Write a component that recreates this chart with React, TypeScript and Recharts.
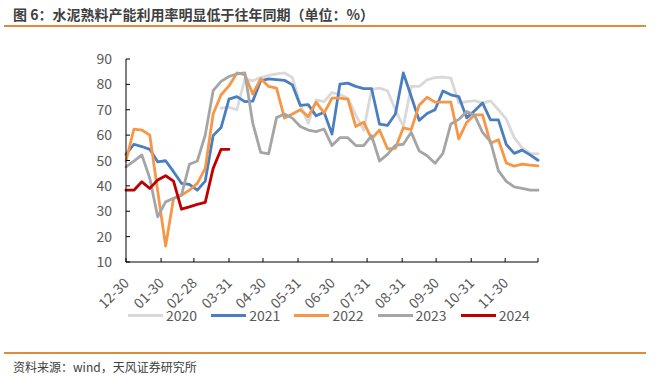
import React from "react";
import { LineChart, Line, XAxis, YAxis } from "recharts";

const TITLE = "图 6：水泥熟料产能利用率明显低于往年同期（单位：%）";
const SOURCE = "资料来源：wind，天风证券研究所";

// weekly observations, index i -> day 7*i counted from 12-30
const s2020: (number | null)[] = [
  null, null, null, null, null, null, null, null, null, null, null, null,
  70.6, 71, 70, 82.2, 81.4, 82.7, 83.5, 84.1, 84.5, 82.7,
  71.9, 64.7, 73.9, 73.2, 76.8, 76, 74.5, 68, 62, 78,
  78.5, 77.5, 70, 63.4, 79.2, 79.2, 81.8, 82.7, 82.9, 82.5,
  72.6, 73.2, 73.6, 72.6, 73.5, 70, 66.3, 59, 55, 52.8, 52.6,
];
const s2021: (number | null)[] = [
  52.4, 56.4, 55.5, 54.4, 49.5, 49.9, 45.6, 41, 40.6, 38.3,
  41.9, 59.8, 63, 74.2, 75.2, 73.2, 73.4, 81.4, 82.2, 81.9,
  81.6, 79.8, 71.7, 72, 67.6, 69, 60.4, 80.1, 80.5, 79.2,
  78.3, 78.3, 64.3, 63.8, 68.3, 84.5, 75.2, 65.8, 68.5, 70,
  77.4, 75.9, 75.2, 66.8, 69.6, 72.7, 66, 66, 56.3, 52.8,
  54.1, 52.2, 50.1,
];
const s2022: (number | null)[] = [
  49.8, 62.4, 62, 60, 38, 16.3, 35, 36.3, 38.3, 41,
  46.9, 68.3, 75.9, 79.4, 84.5, 83.8, 76.2, 82.2, 79.2, 78.5,
  66.7, 68.3, 70, 67.3, 73, 68.7, 74.6, 74.6, 74.2, 63.4,
  65.1, 58.5, 62, 54.6, 54.8, 62.9, 62.2, 71.8, 74.9, 73,
  73, 73, 58.5, 65, 68, 68, 56.8, 58.2, 49, 47.8,
  48.6, 48.2, 47.9,
];
const s2023: (number | null)[] = [
  47.5, 49.8, 52.2, 43, 27.8, 33.7, 35.1, 36.4, 48.5, 49.8,
  60, 77.5, 81.2, 83.1, 84.1, 84.5, 64.7, 53.2, 52.6, 66.9,
  68.3, 66.7, 63.4, 62, 61.4, 62.4, 55.9, 59, 59, 55.9,
  55.9, 59.8, 49.8, 52.4, 56, 56.4, 61.1, 53.8, 51.9, 48.9,
  52.8, 64.4, 66.2, 69.3, 67.8, 61.1, 57.5, 46, 41.8, 39.6,
  39, 38.3, 38.3,
];
const s2024: (number | null)[] = [
  38.3, 38.3, 41.6, 39, 42.3, 44, 41.9, 30.8, 31.7, 32.7,
  33.5, 46.9, 54.4, 54.4,
];

const tickDays = [0, 31, 60, 91, 121, 152, 182, 213, 244, 274, 305, 335, 364];
const tickLabels = ["12-30", "01-30", "02-28", "03-31", "04-30", "05-31", "06-30", "07-31", "08-31", "09-30", "10-31", "11-30", ""];
const yTicks = [10, 20, 30, 40, 50, 60, 70, 80, 90];

const seriesDefs = [
  { key: "y2020", name: "2020", color: "#D9D9D9", values: s2020 },
  { key: "y2021", name: "2021", color: "#4A7EBF", values: s2021 },
  { key: "y2022", name: "2022", color: "#F79646", values: s2022 },
  { key: "y2023", name: "2023", color: "#A5A5A5", values: s2023 },
  { key: "y2024", name: "2024", color: "#C00000", values: s2024 },
];

const data = s2021.map((_, i) => {
  const row: Record<string, number | null> = { day: i * 7 };
  seriesDefs.forEach((s) => {
    const v = s.values[i];
    row[s.key] = v === undefined ? null : v;
  });
  return row;
});

const FONT = "'Noto Sans CJK SC', 'Noto Sans', sans-serif";
const TEXT_COLOR = "#595959";

const XTick = (props: any) => {
  const { x, y, payload } = props;
  const idx = tickDays.indexOf(payload.value);
  const label = idx >= 0 ? tickLabels[idx] : "";
  const ax = x + 4;
  const ay = y + 22;
  return (
    <g>
      <line x1={x} y1={y} x2={x} y2={y - 4} stroke="#000" strokeWidth={1} />
      {label ? (
        <text
          x={ax}
          y={ay}
          transform={`rotate(-45, ${ax}, ${ay})`}
          textAnchor="end"
          fontSize={14}
          fontFamily={FONT}
          fill={TEXT_COLOR}
        >
          {label}
        </text>
      ) : null}
    </g>
  );
};

const YTick = (props: any) => {
  const { x, y, payload } = props;
  return (
    <g>
      <line x1={x + 14} y1={y} x2={x + 18} y2={y} stroke="#000" strokeWidth={1} />
      <text
        x={x}
        y={y}
        dy="0.36em"
        textAnchor="end"
        fontSize={14}
        fontFamily={FONT}
        fill={TEXT_COLOR}
      >
        {payload.value}
      </text>
    </g>
  );
};

export default function App() {
  return (
    <div
      style={{
        position: "absolute",
        left: 0,
        top: 0,
        width: 659,
        height: 380,
        background: "#fff",
        overflow: "hidden",
        fontFamily: FONT,
      }}
    >
      <div
        style={{
          position: "absolute",
          left: 13,
          top: 4,
          fontSize: 14,
          lineHeight: "20px",
          fontWeight: 700,
          color: "#404040",
          whiteSpace: "nowrap",
        }}
      >
        {TITLE}
      </div>
      <div
        style={{
          position: "absolute",
          left: 4,
          top: 25,
          width: 642,
          height: 1.5,
          background: "#E08A3C",
        }}
      />
      <div style={{ position: "absolute", left: 0, top: 0 }}>
        <LineChart
          width={659}
          height={340}
          data={data}
          margin={{ top: 59, right: 121, bottom: 0, left: 0 }}
        >
          <XAxis
            dataKey="day"
            type="number"
            domain={[0, 364]}
            ticks={tickDays}
            interval={0}
            tick={<XTick />}
            tickSize={0}
            tickMargin={0}
            height={78}
            axisLine={{ stroke: "#000", strokeWidth: 1 }}
            tickLine={false}
          />
          <YAxis
            type="number"
            domain={[10, 90]}
            ticks={yTicks}
            interval={0}
            tick={<YTick />}
            tickSize={0}
            tickMargin={14}
            width={126}
            axisLine={{ stroke: "#000", strokeWidth: 1 }}
            tickLine={false}
          />
          {seriesDefs.map((s) => (
            <Line
              key={s.key}
              dataKey={s.key}
              name={s.name}
              type="linear"
              stroke={s.color}
              strokeWidth={2.8}
              strokeLinejoin="round"
              strokeLinecap="round"
              dot={false}
              activeDot={false}
              connectNulls={false}
              isAnimationActive={false}
            />
          ))}
        </LineChart>
      </div>
      <div
        style={{
          position: "absolute",
          left: 128,
          top: 305,
          display: "flex",
          alignItems: "center",
          height: 20,
        }}
      >
        {seriesDefs.map((s) => (
          <div
            key={s.key}
            style={{ display: "flex", alignItems: "center", width: 83.2 }}
          >
            <div style={{ width: 35, height: 3, background: s.color }} />
            <span
              style={{
                marginLeft: 3,
                fontSize: 14,
                color: TEXT_COLOR,
                lineHeight: "20px",
              }}
            >
              {s.name}
            </span>
          </div>
        ))}
      </div>
      <div
        style={{
          position: "absolute",
          left: 4,
          top: 352,
          width: 642,
          height: 1.5,
          background: "#E08A3C",
        }}
      />
      <div
        style={{
          position: "absolute",
          left: 13,
          top: 358,
          fontSize: 12,
          lineHeight: "18px",
          color: "#404040",
          whiteSpace: "nowrap",
        }}
      >
        {SOURCE}
      </div>
    </div>
  );
}
